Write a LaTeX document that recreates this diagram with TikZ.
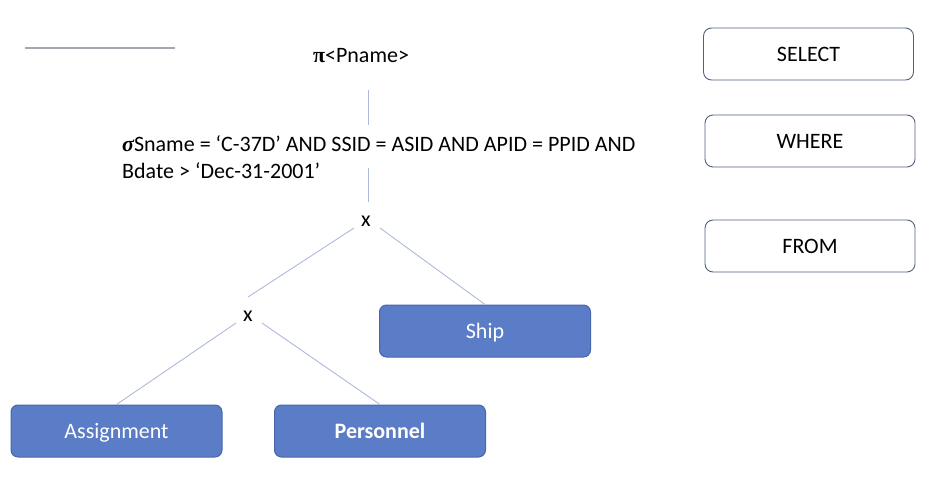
\documentclass[tikz,border=0pt]{standalone}
\usepackage{fontspec}
\setmainfont{Carlito}
\newfontfamily\grk{Liberation Serif}
\definecolor{boxfill}{RGB}{91,124,198}
\definecolor{boxedge}{RGB}{72,103,170}
\definecolor{wedge}{RGB}{80,96,128}
\definecolor{linkc}{RGB}{172,186,216}
\definecolor{grayl}{RGB}{165,168,175}
\tikzset{
  ctr/.style={text height=18.5pt, text depth=4.4pt},
  relbox/.style={draw=boxedge, line width=1pt, fill=boxfill, rounded corners=7pt,
    minimum width=211pt, minimum height=52pt, text=white, inner sep=0pt, ctr},
  clausebox/.style={draw=wedge, line width=0.9pt, fill=white, rounded corners=8pt,
    minimum width=210pt, minimum height=52pt, text=black, inner sep=0pt, ctr},
  link/.style={draw=linkc, line width=0.9pt},
  lbl/.style={inner sep=0pt, text=black}
}
\begin{document}
\begin{tikzpicture}[x=1pt, y=-1pt, font=\fontsize{22}{27}\selectfont]
\useasboundingbox (0,0) rectangle (934,478);
% top-left line
\coordinate (ga) at (25,48);
\coordinate (gb) at (175,48);
\draw[grayl, line width=1.6pt] (ga) -- (gb);
% clause boxes
\node[clausebox] (sel) at (808.5,54) {SELECT};
\node[clausebox] (whr) at (810,141) {WHERE};
\node[clausebox] (frm) at (810,246) {FROM};
% tree labels
\node[lbl, ctr] (pi) at (361,55) {{\grk\bfseries π}<Pname>};
\node[lbl, anchor=west, align=left] (sig) at (122,157.5) {{\grk\bfseries\itshape σ}Sname = ‘C-37D’ AND SSID = ASID AND APID = PPID AND\\Bdate > ‘Dec-31-2001’};
\node[lbl] (x1) at (366,221) {x};
\node[lbl] (x2) at (248,316) {x};
% relation boxes
\node[relbox] (ship) at (485,331) {Ship};
\node[relbox] (asg) at (116.5,431) {Assignment};
\node[relbox] (per) at (380,431) {\textbf{Personnel}};
% connectors
\coordinate (v1a) at (368,90);
\coordinate (v1b) at (368,125);
\coordinate (v2a) at (368,168);
\coordinate (v2b) at (368,202);
\draw[link] (v1a) -- (v1b);
\draw[link] (v2a) -- (v2b);
\coordinate (x1l) at (354,228);
\coordinate (x1r) at (380,228);
\coordinate (x2top) at (248,297);
\draw[link] (x1l) -- (x2top);
\draw[link] (x1r) -- (ship.north);
\coordinate (x2l) at (236,323);
\coordinate (x2r) at (262,323);
\draw[link] (x2l) -- (asg.north);
\draw[link] (x2r) -- (per.north);
\end{tikzpicture}
\end{document}
